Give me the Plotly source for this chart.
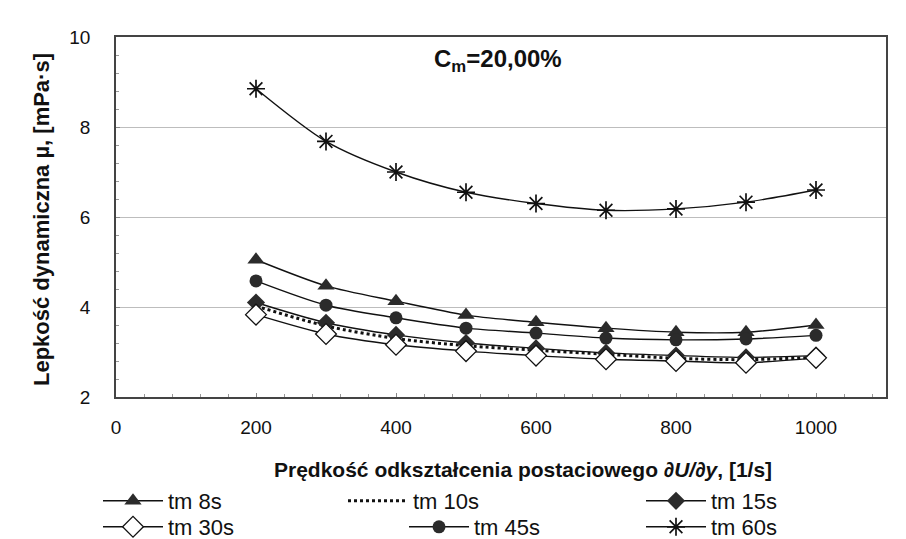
import plotly.graph_objects as go

# ---- data ----
shear_rate = [200, 300, 400, 500, 600, 700, 800, 900, 1000]
tm_8s  = [5.05, 4.47, 4.13, 3.82, 3.66, 3.53, 3.44, 3.44, 3.60]
tm_10s = [4.02, 3.58, 3.30, 3.14, 3.04, 2.95, 2.86, 2.83, 2.88]
tm_15s = [4.10, 3.65, 3.38, 3.20, 3.08, 2.98, 2.92, 2.88, 2.92]
tm_30s = [3.83, 3.40, 3.16, 3.02, 2.92, 2.84, 2.80, 2.76, 2.87]
tm_45s = [4.58, 4.04, 3.76, 3.53, 3.42, 3.31, 3.27, 3.29, 3.37]
tm_60s = [8.85, 7.68, 7.00, 6.55, 6.30, 6.15, 6.18, 6.33, 6.60]

x_ticks = [0, 200, 400, 600, 800, 1000]
y_ticks = [2, 4, 6, 8, 10]

W, H = 906, 539
ML, MR, MT, MB = 108, 28, 29, 150
PW, PH = W - ML - MR, H - MT - MB
FONT = "Liberation Sans, Arial, sans-serif"


def px_x(px):
    return (px - ML) / PW


def px_y(py):
    return (H - MB - py) / PH


series = [
    ("tm 8s", tm_8s, dict(symbol="triangle-up", size=15, color="#2b2b2b"), "solid", 1.4, "legend", 90, 493),
    ("tm 10s", tm_10s, None, "dot", 3.0, "legend2", 335, 493),
    ("tm 15s", tm_15s, dict(symbol="diamond", size=14, color="#2b2b2b"), "solid", 1.4, "legend3", 633, 493),
    ("tm 30s", tm_30s, dict(symbol="diamond", size=16, color="white", line=dict(color="#111", width=1.3)), "solid", 1.4, "legend4", 90, 519),
    ("tm 45s", tm_45s, dict(symbol="circle", size=13, color="#2b2b2b"), "solid", 1.4, "legend5", 396, 519),
    ("tm 60s", tm_60s, dict(symbol="asterisk-open", size=15, color="#111", line=dict(color="#111", width=1.7)), "solid", 1.4, "legend6", 633, 519),
]

fig = go.Figure()
legends = {}
for name, vals, marker, dash, lw, leg, lx, ly in series:
    kw = dict(
        x=shear_rate, y=vals, name=name, legend=leg,
        line=dict(color="#111", width=lw, dash=dash, shape="spline", smoothing=0.8),
    )
    if marker is None:
        kw["mode"] = "lines"
    else:
        kw["mode"] = "lines+markers"
        kw["marker"] = marker
    fig.add_trace(go.Scatter(**kw))
    legends[leg] = dict(
        x=px_x(lx), y=px_y(ly), xref="paper", yref="paper",
        xanchor="left", yanchor="middle", itemwidth=60,
        bgcolor="rgba(0,0,0,0)", font=dict(family=FONT, size=22, color="#111"),
        tracegroupgap=0, itemclick=False,
    )

fig.update_layout(**legends)

fig.update_layout(
    width=W, height=H,
    margin=dict(l=ML, r=MR, t=MT, b=MB, autoexpand=False),
    paper_bgcolor="white", plot_bgcolor="white",
    font=dict(family=FONT, color="#111"),
    showlegend=True,
    xaxis=dict(
        range=[0, 1100], tickvals=x_ticks, ticktext=[str(v) for v in x_ticks],
        showgrid=False, zeroline=False,
        showline=True, linecolor="#444", linewidth=1.5, mirror=True,
        ticks="inside", ticklen=4, tickcolor="#888",
        minor=dict(dtick=40, ticks="inside", ticklen=3, tickcolor="#999"),
        tickfont=dict(family=FONT, size=19, color="#111"),
        ticklabelstandoff=12,
    ),
    yaxis=dict(
        range=[2, 10], tickvals=y_ticks, ticktext=[str(v) for v in y_ticks],
        showgrid=True, gridcolor="#bdbdbd", gridwidth=1, zeroline=False,
        showline=True, linecolor="#444", linewidth=1.5, mirror=True,
        ticks="inside", ticklen=4, tickcolor="#888",
        minor=dict(dtick=0.4, ticks="inside", ticklen=3, tickcolor="#999"),
        tickfont=dict(family=FONT, size=19, color="#111"),
        ticklabelstandoff=20,
    ),
    annotations=[
        dict(text="<b>C<sub>m</sub>=20,00%</b>", x=545, y=9.47, xref="x", yref="y",
             showarrow=False, font=dict(family=FONT, size=24, color="#111"),
             xanchor="center", yanchor="middle"),
        dict(text="<b>Prędkość odkształcenia postaciowego <i>∂U/∂y</i>, [1/s]</b>",
             x=px_x(515), y=px_y(461), xref="paper", yref="paper",
             showarrow=False, font=dict(family=FONT, size=21, color="#111"),
             xanchor="center", yanchor="middle"),
        dict(text="<b>Lepkość dynamiczna µ, [mPa·s]</b>",
             x=px_x(33), y=px_y(212), xref="paper", yref="paper",
             textangle=-90, showarrow=False,
             font=dict(family=FONT, size=22, color="#111"),
             xanchor="center", yanchor="middle"),
    ],
)

fig.write_html("out.html")
